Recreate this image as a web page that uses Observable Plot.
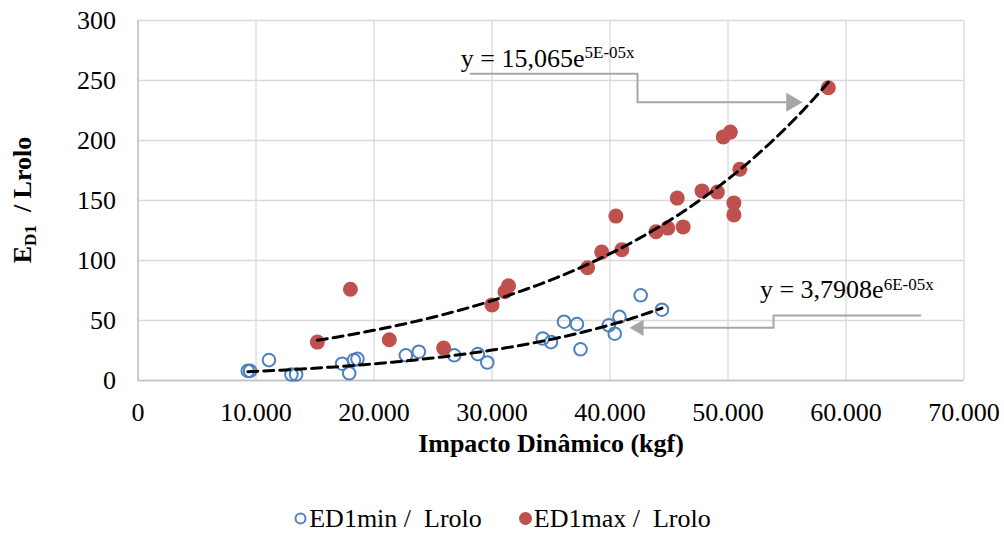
<!DOCTYPE html>
<html>
<head>
<meta charset="utf-8">
<script src="https://cdn.jsdelivr.net/npm/d3@7"></script>
<script src="https://cdn.jsdelivr.net/npm/@observablehq/plot@0.6"></script>
<style>
  body { margin: 0; background: #fff; font-family: "Liberation Serif", "Times New Roman", serif; }
  #chart svg { display: block; }
  #legend { height: 43px; display: flex; justify-content: center; align-items: center; gap: 36px;
            font-size: 26px; color: #000; white-space: pre; padding-top: 14px; box-sizing: border-box; }
  #legend .item { display: flex; align-items: center; gap: 1px; }
  #legend svg { display: block; }
</style>
</head>
<body>
<div id="chart"></div>
<div id="legend"></div>
<script>
// Dynamic impact (kgf) against E_D1 / Lrolo, minimum and maximum series
const minImpact = [9300, 9500, 11100, 13000, 13400, 17300, 17900, 18300, 18600, 22700, 23800, 26800,
                   28800, 29600, 34300, 35000, 36100, 37200, 37500, 39900, 40400, 40800, 42600, 44400];
const minRatio  = [8, 8, 17, 5, 5, 14, 6, 17, 18, 21, 24, 21,
                   22, 15, 35, 32, 49, 47, 26, 46, 39, 53, 71, 59];

const maxImpact = [15200, 18000, 21300, 25900, 30000, 31100, 31400, 38100, 39300, 40500, 41000, 43900,
                   44900, 45700, 46200, 47800, 49100, 49600, 50200, 50500, 50500, 51000, 58500];
const maxRatio  = [32, 76, 34, 27, 63, 74, 79, 94, 107, 137, 109, 124,
                   127, 152, 128, 158, 157, 203, 207, 148, 138, 176, 244];

const seriesNames = ["ED1min /  Lrolo", "ED1max /  Lrolo"];
const xTicks = [0, 10000, 20000, 30000, 40000, 50000, 60000, 70000];
const yTicks = [0, 50, 100, 150, 200, 250, 300];

// Trendline equation labels (as printed) for the max and min series
const eqBase = ["y = 15,065e", "y = 3,7908e"];
const eqExp  = ["5E-05x", "6E-05x"];

// Annotation layout, in data units
const eqAnchorX = [27400, 52750];
const eqAnchorY = [261, 68];
const maxConnectorX = [28180, 42330, 42330, 55400];
const maxConnectorY = [255.6, 255.6, 231.9, 231.9];
const minConnectorX = [66300, 53860, 53860, 42450];
const minConnectorY = [54.2, 54.2, 43.9, 43.9];

const BLUE = "#4f81bd", RED = "#c0504d", FONT = "Liberation Serif, Times New Roman, serif";

const minData = minImpact.map((x, i) => ({x, y: minRatio[i]}));
const maxData = maxImpact.map((x, i) => ({x, y: maxRatio[i]}));

// Exponential least-squares trendline: ln(y) = ln(a) + b x
function expTrend(xs, ys) {
  const ly = ys.map(Math.log);
  const mx = d3.mean(xs), my = d3.mean(ly);
  const b = d3.sum(xs, (x, i) => (x - mx) * (ly[i] - my)) / d3.sum(xs, x => (x - mx) ** 2);
  const a = Math.exp(my - b * mx);
  const [x0, x1] = d3.extent(xs);
  return d3.range(101).map(i => {
    const x = x0 + (x1 - x0) * i / 100;
    return {x, y: a * Math.exp(b * x)};
  });
}
const minTrend = expTrend(minImpact, minRatio);
const maxTrend = expTrend(maxImpact, maxRatio);

const ptLocale = d3.formatLocale({decimal: ",", thousands: ".", grouping: [3], currency: ["", ""]});
const fmtX = ptLocale.format(",d");

const conn = (xs, ys) => xs.map((x, i) => ({x, y: ys[i]}));

const plot = Plot.plot({
  width: 1004,
  height: 490,
  marginLeft: 137.5,
  marginRight: 40.5,
  marginTop: 20,
  marginBottom: 110,
  style: {fontFamily: FONT, fontSize: "26px", color: "#000", background: "#fff", overflow: "visible"},
  x: {domain: [0, 70000]},
  y: {domain: [0, 300]},
  marks: [
    Plot.gridX(xTicks, {stroke: "#d9d9d9", strokeOpacity: 1, strokeWidth: 1.3}),
    Plot.gridY(yTicks, {stroke: "#d9d9d9", strokeOpacity: 1, strokeWidth: 1.3}),
    Plot.ruleX([0], {stroke: "#bfbfbf", strokeWidth: 1.3}),
    Plot.ruleY([0], {stroke: "#bfbfbf", strokeWidth: 1.3}),
    Plot.axisX(xTicks, {tickSize: 0, tickPadding: 22, tickFormat: fmtX, fontSize: 26, label: null}),
    Plot.axisY(yTicks, {tickSize: 0, tickPadding: 22, fontSize: 26, label: null}),
    Plot.text(["Impacto Dinâmico (kgf)"], {frameAnchor: "bottom", lineAnchor: "top", dy: 53,
      fontWeight: "bold", fontSize: 26}),
    Plot.dot(minData, {x: "x", y: "y", r: 6.3, stroke: BLUE, strokeWidth: 2, fill: "none"}),
    Plot.dot(maxData, {x: "x", y: "y", r: 7.5, fill: RED, stroke: "none"}),
    Plot.line(minTrend, {x: "x", y: "y", stroke: "#000", strokeWidth: 3, strokeDasharray: "10,6"}),
    Plot.line(maxTrend, {x: "x", y: "y", stroke: "#000", strokeWidth: 3, strokeDasharray: "10,6"}),
    Plot.line(conn(maxConnectorX, maxConnectorY), {x: "x", y: "y", stroke: "#a6a6a6", strokeWidth: 2}),
    Plot.line(conn(minConnectorX, minConnectorY), {x: "x", y: "y", stroke: "#a6a6a6", strokeWidth: 2}),
    Plot.dot([conn(maxConnectorX, maxConnectorY).at(-1)], {x: "x", y: "y", symbol: "triangle", r: 7,
      rotate: 90, fill: "#a6a6a6", stroke: "none"}),
    Plot.dot([conn(minConnectorX, minConnectorY).at(-1)], {x: "x", y: "y", symbol: "triangle", r: 6,
      rotate: -90, fill: "#a6a6a6", stroke: "none"})
  ]
});

// Labels with sub/superscripts
const sx = plot.scale("x"), sy = plot.scale("y");
const svg = d3.select(plot);

const yt = svg.append("text")
  .attr("transform", `translate(30.5,${(20 + 380) / 2}) rotate(-90)`)
  .attr("text-anchor", "middle")
  .attr("font-family", FONT).attr("font-size", 26).attr("font-weight", "bold")
  .style("white-space", "pre");
yt.append("tspan").text("E");
yt.append("tspan").attr("font-size", 17).attr("dy", 5).text("D1");
yt.append("tspan").attr("dy", -5).text("  / Lrolo");

eqBase.forEach((base, i) => {
  const t = svg.append("text")
    .attr("x", sx.apply(eqAnchorX[i])).attr("y", sy.apply(eqAnchorY[i]))
    .attr("text-anchor", "start")
    .attr("font-family", FONT).attr("font-size", 26).attr("fill", "#000");
  t.append("tspan").text(base);
  t.append("tspan").attr("font-size", 17).attr("dy", -8.5).text(eqExp[i]);
});

document.getElementById("chart").appendChild(plot);

// Legend below the chart
const legend = d3.select("#legend");
[{name: seriesNames[0], fill: "none", stroke: BLUE, r: 5},
 {name: seriesNames[1], fill: RED, stroke: "none", r: 6.5}].forEach(s => {
  const item = legend.append("div").attr("class", "item");
  const sw = item.append("svg").attr("width", 15).attr("height", 15);
  sw.append("circle").attr("cx", 7.5).attr("cy", 7.5).attr("r", s.r)
    .attr("fill", s.fill).attr("stroke", s.stroke).attr("stroke-width", 2);
  item.append("span").text(s.name);
});
</script>
</body>
</html>
